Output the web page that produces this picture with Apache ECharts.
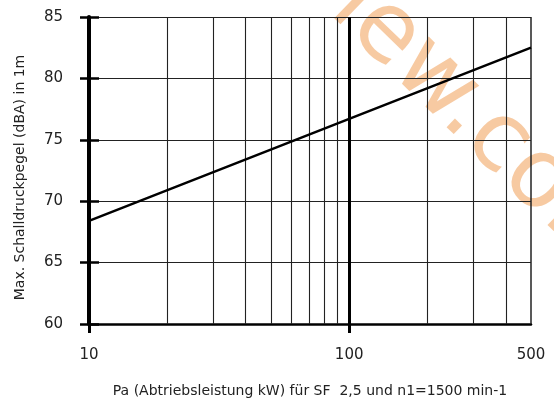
<!DOCTYPE html>
<html><head><meta charset="utf-8">
<script src="https://cdn.jsdelivr.net/npm/echarts@6/dist/echarts.min.js"></script>
<style>html,body{margin:0;padding:0;background:#fff}#c{width:554px;height:401px}</style>
</head><body><div id="c"></div>
<script>
const powerKW = [10, 100, 500];
const soundDBA = [68.4, 76.7, 82.5];
const xLabelValues = [10, 100, 500];
const xMajorTicks = [10, 100];
const xGridValues = [20, 30, 40, 50, 60, 70, 80, 90, 200, 300, 400, 500];
const yMin = 60, yMax = 85, yStep = 5;
const xTitle = 'Pa (Abtriebsleistung kW) für SF  2,5 und n1=1500 min-1';
const yTitle = 'Max. Schalldruckpegel (dBA) in 1m';

const font = 'DejaVu Sans';
const chart = echarts.init(document.getElementById('c'), null, {renderer: 'canvas'});
chart.setOption({
  animation: false,
  backgroundColor: '#fff',
  grid: {left: 89, right: 23, top: 17, bottom: 77, containLabel: false, outerBoundsMode: 'none'},
  graphic: [{
    type: 'text', z: 0, silent: true,
    x: 345, y: -6, rotation: -Math.PI * 0.245,
    style: {text: 'iew.com', fontSize: 96, fontFamily: 'DejaVu Sans', fill: 'rgba(240,150,70,0.5)', textAlign: 'left', textVerticalAlign: 'middle'}
  }],
  xAxis: {
    type: 'log', logBase: 10, min: 10, max: 500,
    name: xTitle, nameLocation: 'middle', nameGap: 60,
    nameTextStyle: {fontSize: 14, fontFamily: font, color: '#222'},
    axisLine: {lineStyle: {color: '#000', width: 2.5}},
    axisTick: {show: true, customValues: xMajorTicks, length: 9, inside: false, lineStyle: {color: '#000', width: 3}},
    axisLabel: {customValues: xLabelValues, fontSize: 15, fontFamily: font, color: '#222', margin: 24},
    splitLine: {show: false}, minorTick: {show: false}
  },
  yAxis: [{
    type: 'value', min: yMin, max: yMax, interval: yStep,
    name: yTitle, nameLocation: 'middle', nameGap: 62,
    nameTextStyle: {fontSize: 14, fontFamily: font, color: '#222', padding: [0, 14, 0, 0]},
    axisLine: {show: true, lineStyle: {color: '#000', width: 4}},
    axisTick: {show: true, length: 9, lineStyle: {color: '#000', width: 2.5}},
    axisLabel: {fontSize: 15, fontFamily: font, color: '#222', margin: 26},
    splitLine: {show: true, lineStyle: {color: '#222', width: 1.2}}
  }, {
    type: 'value', min: yMin, max: yMax, interval: yStep, position: 'left',
    axisLine: {show: false},
    axisTick: {show: true, inside: true, length: 10, lineStyle: {color: '#000', width: 2.5}},
    axisLabel: {show: false}, splitLine: {show: false}
  }],
  series: [{
    type: 'line', yAxisIndex: 0,
    data: powerKW.map((p, i) => [p, soundDBA[i]]),
    showSymbol: false, symbol: 'none',
    lineStyle: {color: '#000', width: 2.5}, z: 5,
    markLine: {
      silent: true, symbol: 'none', label: {show: false},
      data: xGridValues.map(v => ({xAxis: v, lineStyle: {color: '#222', width: v === 500 ? 1.5 : 1.1, type: 'solid'}}))
        .concat([{xAxis: 100, lineStyle: {color: '#000', width: 3, type: 'solid'}}])
    }
  }]
});
</script></body></html>
